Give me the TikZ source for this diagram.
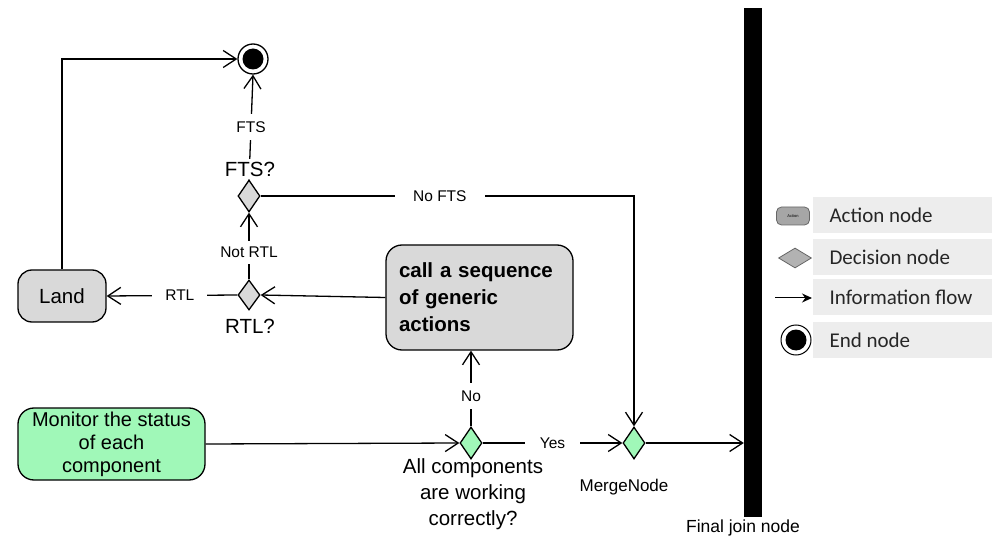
\documentclass[tikz,border=0pt]{standalone}
\usepackage{fontspec}
\setmainfont{Liberation Sans}
\newfontfamily\legendfont{Carlito}
\usetikzlibrary{arrows.meta,shapes.geometric}
\definecolor{actgray}{RGB}{217,217,217}
\definecolor{mint}{RGB}{160,248,184}
\definecolor{leggray}{RGB}{237,237,237}
\tikzset{
  flow/.style={draw, line width=1.3pt, -{Straight Barb[length=13pt,width=17pt,line width=1.3pt]}},
  actbox/.style={draw, line width=1.3pt, rounded corners=16pt, fill=actgray},
  decn/.style={diamond, draw, line width=1.3pt, fill=actgray, inner sep=0pt, minimum width=22pt, minimum height=32pt},
  lbl/.style={fill=white, inner xsep=13pt, inner ysep=6pt, font=\fontsize{15.5}{18}\selectfont},
  big/.style={font=\fontsize{20.5}{25}\selectfont},
  legrow/.style={fill=leggray, draw=none, minimum width=179pt, minimum height=36pt, inner sep=0pt},
  legtxt/.style={anchor=west, font=\legendfont\fontsize{21}{24}\selectfont, text=black!85}
}
\begin{document}
\begin{tikzpicture}[x=1pt,y=-1pt]
\useasboundingbox (0,0) rectangle (994,540);
% nodes
\node[circle, draw, line width=1.3pt, fill=white, minimum size=30pt, inner sep=0pt] (endn) at (253,59) {};
\fill (endn.center) circle (10.5pt);
\node[decn] (fts) at (249,196) {};
\node[decn, minimum height=30pt] (rtl) at (249,295) {};
\node[actbox, minimum width=88pt, minimum height=52pt, rounded corners=14pt, big] (land) at (62,296) {Land};
\node[actbox, minimum width=187pt, minimum height=105pt, text width=161pt, inner xsep=13pt, align=left,
      font=\bfseries\fontsize{20.5}{27}\selectfont] (call) at (479.5,297.5) {call a sequence\\of generic\\actions};
\node[actbox, fill=mint, minimum width=187pt, minimum height=72pt, align=center,
      font=\fontsize{20}{23}\selectfont] (monitor) at (111.5,444) {Monitor the status\\of each\\component};
\node[decn, fill=mint] (allc) at (471,443) {};
\node[decn, fill=mint] (merge) at (634,443) {};
\node[fill=black, draw=none, minimum width=18pt, minimum height=509pt, inner sep=0pt] (bar) at (753,262.5) {};
% connectors
\draw[flow] (land.north) |- (endn.west);
\draw[flow] (fts.north) -- node[lbl, inner ysep=8pt]{FTS} (endn.south);
\node[big, fill=white, inner sep=3pt] (ftsq) at (250,169) {FTS?};
\draw[flow] (rtl.north) -- node[lbl, pos=0.4, inner xsep=3pt]{Not RTL} (fts.south);
\draw[flow] (rtl.west) -- node[lbl, pos=0.44]{RTL} (land.east);
\draw[flow] (call.west) -- (rtl.east);
\draw[flow] (fts.east) -| node[lbl, pos=0.24, inner xsep=18pt]{No FTS} (merge.north);
\draw[flow] (monitor.east) -- (allc.west);
\draw[flow] (allc.north) -- node[lbl, pos=0.4, inner ysep=8pt]{No} (allc.north |- call.south);
\draw[flow] (allc.east) -- node[lbl, inner xsep=15pt]{Yes} (merge.west);
\draw[flow] (merge.east) -- (merge.east -| bar.west);
% labels
\node[big] (rtlq) at (250,326) {RTL?};
\node[big, align=center, font=\fontsize{20.5}{26}\selectfont] (allq) at (473,494) {All components\\are working\\correctly?};
\node[font=\fontsize{17}{20}\selectfont] (mergel) at (624,487) {MergeNode};
\node[font=\fontsize{17.5}{20}\selectfont] (finall) at (743,528) {Final join node};
% legend
\node[legrow] (r1) at (902.5,215) {};
\node[legrow] (r2) at (902.5,257.5) {};
\node[legrow] (r3) at (902.5,297.5) {};
\node[legrow] (r4) at (902.5,340) {};
\node[legtxt] at (826,215) {Action node};
\node[legtxt] at (826,257.5) {Decision node};
\node[legtxt] at (826,297.5) {Information flow};
\node[legtxt] at (826,340) {End node};
\node[draw=black!60, line width=0.8pt, fill=black!35, rounded corners=5pt, minimum width=33pt, minimum height=18pt,
      inner sep=0pt, font=\fontsize{4}{5}\selectfont] (i1) at (793,216) {Action};
\node[diamond, draw=black!60, line width=0.8pt, fill=black!30, inner sep=0pt, minimum width=33pt, minimum height=20pt] (i2) at (795,258) {};
\coordinate (i3a) at (775,298);
\coordinate (i3b) at (812,298);
\draw[line width=1pt, -{Stealth[length=10pt,width=9pt]}] (i3a) -- (i3b);
\node[circle, draw, line width=1pt, fill=white, minimum size=30pt, inner sep=0pt] (i4) at (796,340) {};
\fill (i4.center) circle (10.5pt);
\end{tikzpicture}
\end{document}
